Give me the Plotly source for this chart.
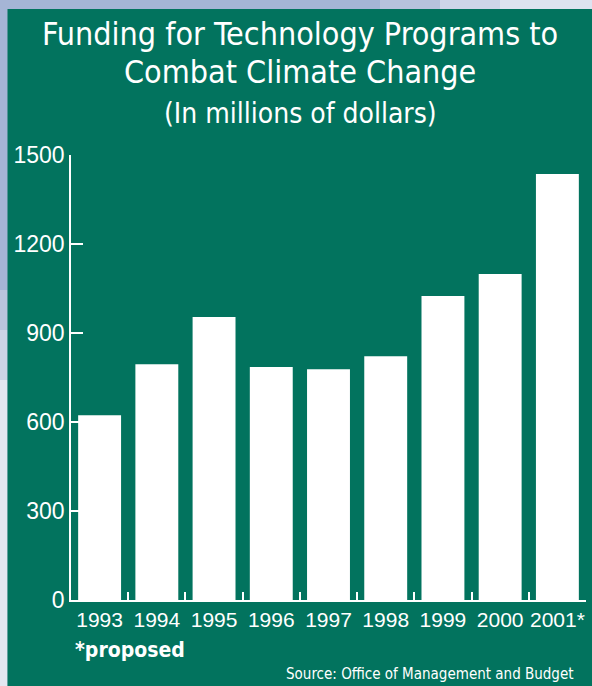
import plotly.graph_objects as go

years = ["1993", "1994", "1995", "1996", "1997", "1998", "1999", "2000", "2001*"]
funding = [623, 795, 954, 785, 778, 822, 1025, 1099, 1436]
y_ticks = [0, 300, 600, 900, 1200, 1500]

W, H = 592, 686
ML, MR, MT, MB = 71, 6, 155, 86
PW, PH = W - ML - MR, H - MT - MB

def px(x):
    return (x - ML) / PW

def py(y):
    return (H - MB - y) / PH

GREEN = "#02735E"
BLUE = "#A5B5D5"
COND = "DejaVu Sans Condensed, Roboto, sans-serif"

fig = go.Figure(go.Bar(x=years, y=funding, marker=dict(color="white", line=dict(width=0)),
                       width=0.75))

def rect(x0, y0, x1, y1, color):
    return dict(type="rect", xref="paper", yref="paper", x0=px(x0), x1=px(x1),
                y0=py(y0), y1=py(y1), fillcolor=color, line=dict(width=0), layer="below")

shapes = [
    # light background patches (approximating the backdrop gradient)
    rect(380, 0, 440, 9, "#B6C2DD"),
    rect(440, 0, 500, 9, "#CDD5E8"),
    rect(500, 0, W, 9, "#DEE3F0"),
    rect(0, 290, 7.5, 330, "#B9C4DD"),
    rect(0, 330, 7.5, 380, "#CDD4E5"),
    rect(0, 380, 7.5, H, "#E3E7F1"),
    # green panel
    rect(7.5, 9, W, H, GREEN),
]

fig.update_layout(
    width=W, height=H,
    margin=dict(l=ML, r=MR, t=MT, b=MB, pad=0),
    paper_bgcolor=BLUE, plot_bgcolor=GREEN,
    showlegend=False,
    bargap=0.25,
    shapes=shapes,
    font=dict(family="Liberation Sans, Arial, sans-serif", color="white"),
    xaxis=dict(type="category", range=[-0.5, 8.5], showline=True, linecolor="white", linewidth=1.5,
               ticks="inside", tickson="boundaries", ticklen=8, tickcolor="white", tickwidth=1.5,
               showgrid=False, zeroline=False, tickfont=dict(size=21, color="white"),
               tickangle=0, automargin=False, fixedrange=True),
    yaxis=dict(range=[0, 1500], tickvals=y_ticks, showline=True, linecolor="white", linewidth=1.5,
               ticks="inside", ticklen=12, tickcolor="white", tickwidth=1.5,
               showgrid=False, zeroline=False, tickfont=dict(size=23, color="white"),
               automargin=False, fixedrange=True),
    annotations=[
        dict(text="Funding for Technology Programs to", xref="paper", yref="paper",
             x=px(300), y=py(34), xanchor="center", yanchor="middle", showarrow=False,
             font=dict(family=COND, size=32, color="white")),
        dict(text="Combat Climate Change", xref="paper", yref="paper",
             x=px(300), y=py(72), xanchor="center", yanchor="middle", showarrow=False,
             font=dict(family=COND, size=32, color="white")),
        dict(text="(In millions of dollars)", xref="paper", yref="paper",
             x=px(300), y=py(114), xanchor="center", yanchor="middle", showarrow=False,
             font=dict(family=COND, size=28, color="white")),
        dict(text="<b>*proposed</b>", xref="paper", yref="paper",
             x=px(73), y=py(650), xanchor="left", yanchor="middle", showarrow=False,
             font=dict(family=COND, size=21, color="white")),
        dict(text="Source: Office of Management and Budget", xref="paper", yref="paper",
             x=px(576), y=py(674), xanchor="right", yanchor="middle", showarrow=False,
             font=dict(family=COND, size=15, color="white")),
    ],
)

fig.write_html("out.html")
